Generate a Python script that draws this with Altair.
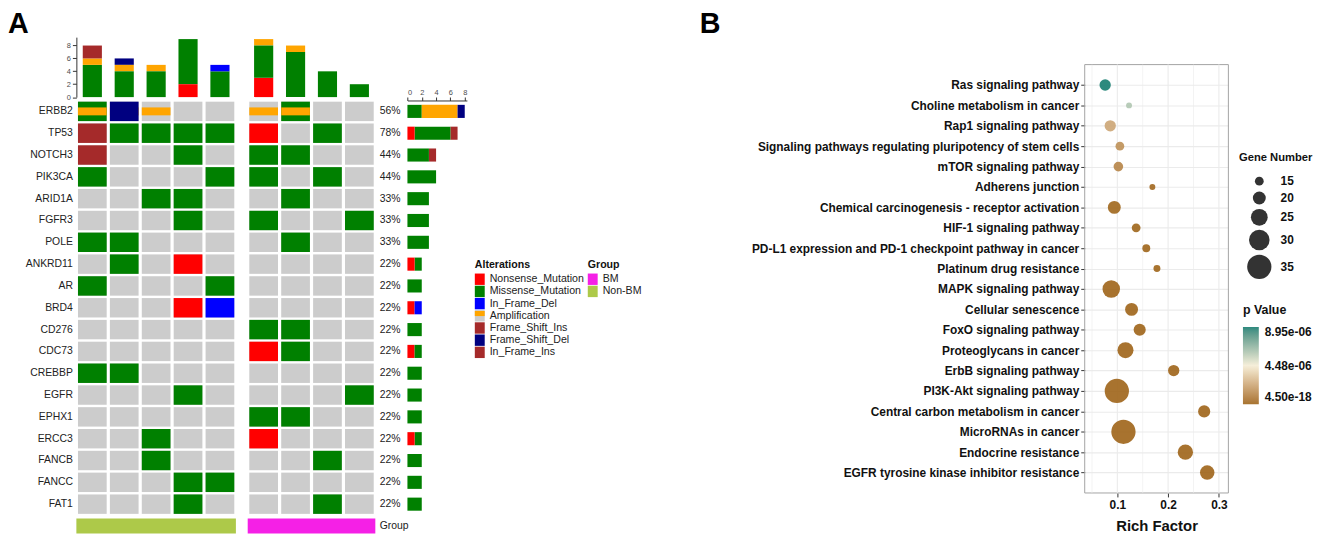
import altair as alt
import pandas as pd

FONT = "Liberation Sans"

# ---------------- Panel A : oncoprint ----------------
samples = ["S1", "S2", "S3", "S4", "S5", "S6", "S7", "S8", "S9"]
sample_group = ["Non-BM", "Non-BM", "Non-BM", "Non-BM", "Non-BM", "BM", "BM", "BM", "BM"]
genes = ["ERBB2", "TP53", "NOTCH3", "PIK3CA", "ARID1A", "FGFR3", "POLE", "ANKRD11", "AR",
         "BRD4", "CD276", "CDC73", "CREBBP", "EGFR", "EPHX1", "ERCC3", "FANCB", "FANCC", "FAT1"]
pct_labels = ["56%", "78%", "44%", "44%", "33%", "33%", "33%", "22%", "22%", "22%",
              "22%", "22%", "22%", "22%", "22%", "22%", "22%", "22%", "22%"]
alt_types = ["Nonsense_Mutation", "Missense_Mutation", "In_Frame_Del", "Amplification",
             "Frame_Shift_Ins", "Frame_Shift_Del", "In_Frame_Ins"]
alt_codes = ["N", "M", "D", "A", "I", "F", "J"]
alt_colors = ["#FF0000", "#008000", "#0000FF", "#FFA500", "#A52A2A", "#000080", "#A52A2A"]
# one entry per sample (S1..S9); letters are alt_codes
onco = {
    "ERBB2":   ["MA", "FA", "A", "", "", "A", "MA", "", ""],
    "TP53":    ["I", "M", "M", "M", "M", "N", "", "M", ""],
    "NOTCH3":  ["I", "", "", "M", "", "M", "M", "", ""],
    "PIK3CA":  ["M", "", "", "", "M", "M", "", "M", ""],
    "ARID1A":  ["", "", "M", "M", "", "", "M", "", ""],
    "FGFR3":   ["", "", "", "M", "", "M", "", "", "M"],
    "POLE":    ["M", "M", "", "", "", "", "M", "", ""],
    "ANKRD11": ["", "M", "", "N", "", "", "", "", ""],
    "AR":      ["M", "", "", "", "M", "", "", "", ""],
    "BRD4":    ["", "", "", "N", "D", "", "", "", ""],
    "CD276":   ["", "", "", "", "", "M", "M", "", ""],
    "CDC73":   ["", "", "", "", "", "N", "M", "", ""],
    "CREBBP":  ["M", "M", "", "", "", "", "", "", ""],
    "EGFR":    ["", "", "", "M", "", "", "", "", "M"],
    "EPHX1":   ["", "", "", "", "", "M", "M", "", ""],
    "ERCC3":   ["", "", "M", "", "", "N", "", "", ""],
    "FANCB":   ["", "", "M", "", "", "", "", "M", ""],
    "FANCC":   ["", "", "", "M", "M", "", "", "", ""],
    "FAT1":    ["", "", "", "M", "", "", "", "M", ""],
}
group_names = ["BM", "Non-BM"]
group_colors = ["#F520E6", "#ADC949"]

# ---------------- Panel B : KEGG enrichment ----------------
pathways = ["Ras signaling pathway", "Choline metabolism in cancer", "Rap1 signaling pathway",
            "Signaling pathways regulating pluripotency of stem cells", "mTOR signaling pathway",
            "Adherens junction", "Chemical carcinogenesis - receptor activation",
            "HIF-1 signaling pathway\u00a0", "PD-L1 expression and PD-1 checkpoint pathway in cancer",
            "Platinum drug resistance", "MAPK signaling pathway", "Cellular senescence",
            "FoxO signaling pathway", "Proteoglycans in cancer", "ErbB signaling pathway",
            "PI3K-Akt signaling pathway", "Central carbon metabolism in cancer",
            "MicroRNAs in cancer", "Endocrine resistance", "EGFR tyrosine kinase inhibitor resistance"]
rich_factor = [0.076, 0.123, 0.086, 0.105, 0.102, 0.169, 0.094, 0.137, 0.157, 0.178,
               0.088, 0.128, 0.144, 0.116, 0.211, 0.099, 0.271, 0.112, 0.234, 0.277]
gene_number = [18, 12, 18, 15, 16, 12, 20, 15, 14, 13, 26, 20, 19, 24, 18, 35, 19, 35, 23, 22]
p_value = [8.95e-06, 6.0e-06, 2.2e-06, 1.5e-06, 1.1e-06, 1.2e-07, 9.0e-08, 6.0e-08, 4.0e-08, 3.0e-08,
           3.4e-09, 8.7e-09, 2.1e-09, 5.6e-10, 1.3e-10, 7.9e-13, 4.2e-12, 4.5e-18, 1.9e-13, 6.8e-15]
x_breaks = [0.05, 0.1, 0.15, 0.2, 0.25, 0.3]
x_labels = [0.1, 0.2, 0.3]

# ---------------- tables ----------------
cells, alts = [], []
for g in genes:
    for j, s in enumerate(samples):
        cells.append({"gene": g, "idx": j, "grp": sample_group[j]})
        for c in onco[g][j]:
            k = alt_codes.index(c)
            alts.append({"gene": g, "idx": j, "grp": sample_group[j], "type": alt_types[k], "order": k})
cells_df = pd.DataFrame(cells)
alts_df = pd.DataFrame(alts)
pct_df = pd.DataFrame({"gene": genes, "pct": pct_labels})
grp_df = pd.DataFrame({"idx": list(range(len(samples))), "grp": sample_group})

leg_rows = []
for k, (t, c) in enumerate(zip(alt_types, alt_colors)):
    leg_rows.append({"legend": "Alterations", "k": k, "label": t, "fill": c})
for k, (g, c) in enumerate(zip(group_names, group_colors)):
    leg_rows.append({"legend": "Group", "k": k, "label": g, "fill": c})
leg_df = pd.DataFrame(leg_rows)
leg_titles = pd.DataFrame({"legend": ["Alterations", "Group"], "k": [-1, -1]})

# ---------------- scales of panel A (one layered view) ----------------
POS = "datum.idx + (datum.grp == 'BM' ? 0.37 : 0)"
COLOR = alt.Scale(domain=alt_types, range=alt_colors)
XH = alt.Scale(domain=[0, 9.37], range=[0, 301.7], nice=False, zero=False)        # sample columns
YC = alt.Scale(domain=[0, 9.3], range=[60.5, 0], nice=False)                       # top bar counts
YG = alt.Scale(domain=genes, range=[63.9, 482.3], paddingInner=0.11, paddingOuter=0.055)
YGB = alt.Scale(domain=genes, range=[63.9, 482.3], paddingInner=0.4, paddingOuter=0.2)
XR = alt.Scale(domain=[0, 8.3], range=[334.1, 394.1], nice=False)                  # right bars
YGRP = alt.Scale(domain=["Group"], range=[485.7, 501], paddingInner=0, paddingOuter=0)
LX = alt.Scale(type="point", domain=["Alterations", "Group"], range=[407.1, 521.1], padding=0)
LY = alt.Scale(type="point", domain=list(range(-1, 7)), range=[232, 232 + 7 * 12.3], padding=0)

gene_axis = alt.Axis(orient="left", title=None, ticks=False, domain=False, labelFont=FONT,
                     labelFontSize=10.5, labelColor="#222222", labelPadding=4, labelLimit=200)


def cell_base(df):
    return (alt.Chart(df).transform_calculate(pos=POS)
            .transform_calculate(x0="datum.pos + 0.05", x1="datum.pos + 0.95"))


bg = cell_base(cells_df).mark_rect(color="#CCCCCC").encode(
    x=alt.X("x0:Q", scale=XH, axis=None), x2="x1:Q",
    y=alt.Y("gene:N", scale=YG, axis=gene_axis))
early = cell_base(alts_df).transform_filter("datum.order < 3").mark_rect().encode(
    x=alt.X("x0:Q", scale=XH, axis=None), x2="x1:Q",
    y=alt.Y("gene:N", scale=YG, axis=None),
    color=alt.Color("type:N", scale=COLOR, legend=None))
amp = (alt.Chart(alts_df).transform_filter("datum.type == 'Amplification'")
       .transform_calculate(pos=POS).transform_calculate(xc="datum.pos + 0.5")
       .mark_tick(orient="horizontal", thickness=8, size=29, opacity=1)
       .encode(x=alt.X("xc:Q", scale=XH, axis=None),
               y=alt.Y("gene:N", scale=YG, axis=None),
               color=alt.Color("type:N", scale=COLOR, legend=None)))
late = cell_base(alts_df).transform_filter("datum.order > 3").mark_rect().encode(
    x=alt.X("x0:Q", scale=XH, axis=None), x2="x1:Q",
    y=alt.Y("gene:N", scale=YG, axis=None),
    color=alt.Color("type:N", scale=COLOR, legend=None))
pct_layer = alt.Chart(pct_df).mark_text(align="left", baseline="middle", dx=4.4, font=FONT,
                                        fontSize=10.5, color="#222222").encode(
    x=alt.XDatum(9.37, type="quantitative", scale=XH, axis=None),
    y=alt.Y("gene:N", scale=YG, axis=None), text="pct:N")

topbar = (alt.Chart(alts_df)
          .transform_aggregate(n="count()", groupby=["idx", "grp", "type", "order"])
          .transform_stack(stack="n", groupby=["idx", "grp"], as_=["y0", "y1"],
                           sort=[alt.SortField(field="order", order="ascending")])
          .transform_calculate(pos=POS)
          .transform_calculate(x0="datum.pos + 0.2", x1="datum.pos + 0.8")
          .mark_rect()
          .encode(x=alt.X("x0:Q", scale=XH, axis=None), x2="x1:Q",
                  y=alt.Y("y0:Q", scale=YC,
                          axis=alt.Axis(orient="left", values=[0, 2, 4, 6, 8], title=None, grid=False,
                                        labelFont=FONT, labelFontSize=7.5, labelColor="#4D4D4D",
                                        tickSize=4, tickColor="#333333", domainColor="#333333",
                                        labelPadding=2)),
                  y2="y1:Q",
                  color=alt.Color("type:N", scale=COLOR, legend=None)))

rbar = (alt.Chart(alts_df)
        .transform_aggregate(n="count()", groupby=["gene", "type", "order"])
        .transform_stack(stack="n", groupby=["gene"], as_=["v0", "v1"],
                         sort=[alt.SortField(field="order", order="ascending")])
        .mark_rect()
        .encode(x=alt.X("v0:Q", scale=XR,
                        axis=alt.Axis(orient="top", offset=-63.9, values=[0, 2, 4, 6, 8], title=None,
                                      grid=False, labelFont=FONT, labelFontSize=7.5,
                                      labelColor="#4D4D4D", tickSize=3.5, tickColor="#333333",
                                      domainColor="#333333", labelPadding=1)),
                x2="v1:Q",
                y=alt.Y("gene:N", scale=YGB, axis=None),
                color=alt.Color("type:N", scale=COLOR, legend=None)))

grpbar = (alt.Chart(grp_df).transform_calculate(pos=POS)
          .transform_aggregate(x0="min(pos)", xm="max(pos)", groupby=["grp"])
          .transform_calculate(x1="datum.xm + 1", row="'Group'")
          .mark_rect()
          .encode(x=alt.X("x0:Q", scale=XH, axis=None), x2="x1:Q",
                  y=alt.Y("row:N", scale=YGRP, axis=None),
                  fill=alt.Fill("grp:N", scale=alt.Scale(domain=group_names, range=group_colors),
                                legend=None)))
grplab = (alt.Chart(pd.DataFrame({"row": ["Group"]}))
          .mark_text(align="left", baseline="middle", dx=4.4, font=FONT, fontSize=10.5, color="#222222")
          .encode(x=alt.XDatum(9.37, type="quantitative", scale=XH, axis=None),
                  y=alt.Y("row:N", scale=YGRP, axis=None), text="row:N"))

RECT = "M-0.87,-1H0.87V1H-0.87Z"
HALF = "M-0.87,-0.85H0.87V0.05H-0.87Z"
sw = (alt.Chart(leg_df)
      .transform_calculate(f="datum.label == 'Amplification' ? '#CCCCCC' : datum.fill")
      .mark_point(shape=RECT, filled=True, size=132, opacity=1, strokeWidth=0)
      .encode(x=alt.X("legend:N", scale=LX, axis=None), y=alt.Y("k:O", scale=LY, axis=None),
              color=alt.Color("f:N", scale=None)))
sw_amp = (alt.Chart(leg_df).transform_filter("datum.label == 'Amplification'")
          .mark_point(shape=HALF, filled=True, size=132, opacity=1, strokeWidth=0)
          .encode(x=alt.X("legend:N", scale=LX, axis=None), y=alt.Y("k:O", scale=LY, axis=None),
                  color=alt.Color("fill:N", scale=None)))
leg_lab = (alt.Chart(leg_df)
           .mark_text(align="left", baseline="middle", dx=10, font=FONT, fontSize=10.7, color="#222222")
           .encode(x=alt.X("legend:N", scale=LX, axis=None), y=alt.Y("k:O", scale=LY, axis=None),
                   text="label:N"))
leg_tit = (alt.Chart(leg_titles)
           .mark_text(align="left", baseline="middle", dx=-5, dy=-2.5, font=FONT, fontSize=10.7,
                      fontWeight="bold", color="#111111")
           .encode(x=alt.X("legend:N", scale=LX, axis=None), y=alt.Y("k:O", scale=LY, axis=None),
                   text="legend:N"))

panelA = (alt.layer(bg, early, amp, late, pct_layer, topbar, rbar, grpbar, grplab,
                    sw, sw_amp, leg_lab, leg_tit)
          .resolve_scale(x="independent", y="independent", color="independent")
          .resolve_axis(x="independent", y="independent")
          .properties(width=394.1, height=501,
                      title=alt.TitleParams("A", anchor="start", frame="group", dx=-69, offset=-25,
                                            fontSize=29, fontWeight="bold", font=FONT,
                                            color="black", baseline="alphabetic")))

# ---------------- Panel B chart ----------------
B_TOP, B_W, B_H = 27.7, 145, 460
dfB = pd.DataFrame({"pathway": pathways, "rich": rich_factor, "count": gene_number, "p": p_value})
XB = alt.Scale(domain=[0.0357, 0.3187], nice=False, zero=False)
YB = alt.Scale(type="point", domain=pathways, range=[B_TOP, B_H], padding=1.17)
XB_AXIS = alt.Axis(values=x_labels, format=".1f", title="Rich Factor", grid=False,
                   domain=False, tickSize=4,
                   tickColor="#333333", labelFont=FONT, labelFontSize=12,
                   labelFontWeight="bold", labelColor="#111111", labelPadding=3,
                   titleFont=FONT, titleFontSize=15, titleFontWeight="bold",
                   titleColor="#111111", titlePadding=8)
frame = (alt.Chart(pd.DataFrame({"f": [0]}))
         .mark_rect(fillOpacity=0, stroke="#A3A3A3", strokeWidth=1)
         .encode(x=alt.value(0), x2=alt.value(B_W), y=alt.value(B_TOP), y2=alt.value(B_H)))
vgrid = (alt.Chart(pd.DataFrame({"v": x_breaks}))
         .mark_rule(color="#EBEBEB")
         .encode(x=alt.X("v:Q", scale=XB, axis=XB_AXIS), y=alt.value(B_TOP), y2=alt.value(B_H),
                 strokeWidth=alt.condition("round(datum.v * 100) % 10 == 5",
                                           alt.value(0.6), alt.value(1.1))))
dots = (alt.Chart(dfB).mark_circle(opacity=0.9, strokeWidth=0)
        .encode(
            x=alt.X("rich:Q", scale=XB, axis=XB_AXIS),
            y=alt.Y("pathway:N", scale=YB,
                    axis=alt.Axis(title=None, grid=True, gridColor="#EBEBEB", gridWidth=1.1, domain=False,
                                  tickSize=4, tickColor="#333333", labelFont=FONT, labelFontSize=12,
                                  labelFontWeight="bold", labelColor="#111111", labelPadding=2,
                                  labelLimit=500)),
            size=alt.Size("count:Q",
                          scale=alt.Scale(type="pow", exponent=2, domain=[12, 35], range=[36, 600]),
                          legend=alt.Legend(title="Gene Number", orient="none", legendX=155.7,
                                            legendY=88.3 + B_TOP, values=[15, 20, 25, 30, 35],
                                            symbolFillColor="#333333", symbolStrokeWidth=0,
                                            symbolOpacity=1, symbolOffset=8, labelOffset=9,
                                            rowPadding=4, titlePadding=12, padding=0,
                                            titleFont=FONT, titleFontSize=11.3, titleFontWeight="bold",
                                            titleColor="#111111", labelFont=FONT, labelFontSize=12,
                                            labelFontWeight="bold", labelColor="#111111")),
            color=alt.Color("p:Q",
                            scale=alt.Scale(domain=[4.5e-18, 4.48e-06, 8.95e-06],
                                            range=["#9E6418", "#F5EDD5", "#167D70"], interpolate="lab"),
                            legend=alt.Legend(title="p Value", orient="none", legendX=159.7,
                                              legendY=241.3 + B_TOP, values=[4.5e-18, 4.48e-06, 8.95e-06],
                                              labelExpr="replace(format(datum.value, '.2e'), 'e-6', 'e-06')",
                                              gradientLength=78, gradientThickness=16,
                                              gradientStrokeWidth=0, titlePadding=11, padding=0,
                                              labelOffset=6, titleFont=FONT, titleFontSize=12.5,
                                              titleFontWeight="bold", titleColor="#111111",
                                              labelFont=FONT, labelFontSize=12, labelFontWeight="bold",
                                              labelColor="#111111"))))
panelB = (alt.layer(frame, vgrid, dots)
          .properties(width=B_W, height=B_H,
                      title=alt.TitleParams("B", anchor="start", frame="group", dx=-388.6, offset=-25,
                                            fontSize=29, fontWeight="bold", font=FONT,
                                            color="black", baseline="alphabetic")))

chart = (alt.hconcat(panelA, panelB, spacing=57.6)
         .resolve_scale(color="independent", size="independent")
         .properties(padding=0)
         .configure(font=FONT)
         .configure_view(strokeWidth=0))

chart.save("out.html", embed_options={"renderer": "svg", "actions": False})
